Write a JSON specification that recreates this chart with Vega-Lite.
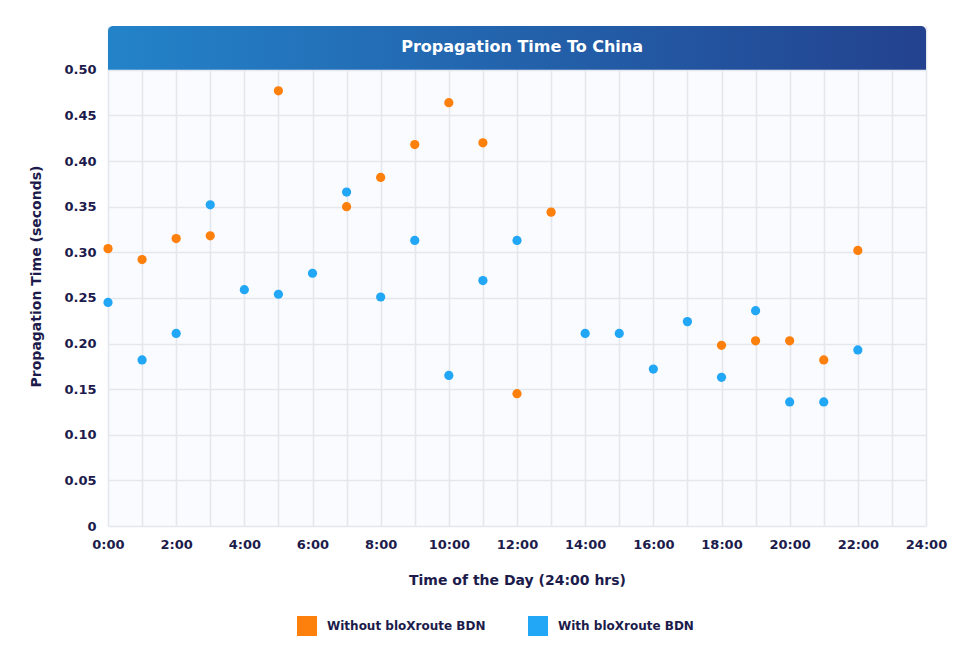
{
  "$schema": "https://vega.github.io/schema/vega-lite/v6.json",
  "autosize": {"type": "none"},
  "width": 818,
  "height": 500,
  "padding": {"left": 108, "top": 26, "right": 34, "bottom": 125},
  "background": "#ffffff",
  "config": {
    "font": "DejaVu Sans",
    "view": {"fill": "#fafbfe", "stroke": null},
    "axis": {
      "labelFont": "DejaVu Sans", "labelFontWeight": "bold", "labelColor": "#1c1b4b", "labelFontSize": 13,
      "titleFont": "DejaVu Sans", "titleFontWeight": "bold", "titleColor": "#1c1b4b", "titleFontSize": 14,
      "gridColor": "#e5e7ee", "gridWidth": 1.6, "gridOpacity": 1, "ticks": false, "domain": false
    },
    "legend": {
      "labelFont": "DejaVu Sans", "labelFontWeight": "bold", "labelColor": "#1c1b4b", "labelFontSize": 12
    }
  },
  "datasets": {
    "points": [
      {"hour": 0, "time": 0.304, "series": "Without bloXroute BDN"},
      {"hour": 1, "time": 0.292, "series": "Without bloXroute BDN"},
      {"hour": 2, "time": 0.315, "series": "Without bloXroute BDN"},
      {"hour": 3, "time": 0.318, "series": "Without bloXroute BDN"},
      {"hour": 5, "time": 0.477, "series": "Without bloXroute BDN"},
      {"hour": 7, "time": 0.350, "series": "Without bloXroute BDN"},
      {"hour": 8, "time": 0.382, "series": "Without bloXroute BDN"},
      {"hour": 9, "time": 0.418, "series": "Without bloXroute BDN"},
      {"hour": 10, "time": 0.464, "series": "Without bloXroute BDN"},
      {"hour": 11, "time": 0.420, "series": "Without bloXroute BDN"},
      {"hour": 12, "time": 0.145, "series": "Without bloXroute BDN"},
      {"hour": 13, "time": 0.344, "series": "Without bloXroute BDN"},
      {"hour": 18, "time": 0.198, "series": "Without bloXroute BDN"},
      {"hour": 19, "time": 0.203, "series": "Without bloXroute BDN"},
      {"hour": 20, "time": 0.203, "series": "Without bloXroute BDN"},
      {"hour": 21, "time": 0.182, "series": "Without bloXroute BDN"},
      {"hour": 22, "time": 0.302, "series": "Without bloXroute BDN"},
      {"hour": 0, "time": 0.245, "series": "With bloXroute BDN"},
      {"hour": 1, "time": 0.182, "series": "With bloXroute BDN"},
      {"hour": 2, "time": 0.211, "series": "With bloXroute BDN"},
      {"hour": 3, "time": 0.352, "series": "With bloXroute BDN"},
      {"hour": 4, "time": 0.259, "series": "With bloXroute BDN"},
      {"hour": 5, "time": 0.254, "series": "With bloXroute BDN"},
      {"hour": 6, "time": 0.277, "series": "With bloXroute BDN"},
      {"hour": 7, "time": 0.366, "series": "With bloXroute BDN"},
      {"hour": 8, "time": 0.251, "series": "With bloXroute BDN"},
      {"hour": 9, "time": 0.313, "series": "With bloXroute BDN"},
      {"hour": 10, "time": 0.165, "series": "With bloXroute BDN"},
      {"hour": 11, "time": 0.269, "series": "With bloXroute BDN"},
      {"hour": 12, "time": 0.313, "series": "With bloXroute BDN"},
      {"hour": 14, "time": 0.211, "series": "With bloXroute BDN"},
      {"hour": 15, "time": 0.211, "series": "With bloXroute BDN"},
      {"hour": 16, "time": 0.172, "series": "With bloXroute BDN"},
      {"hour": 17, "time": 0.224, "series": "With bloXroute BDN"},
      {"hour": 18, "time": 0.163, "series": "With bloXroute BDN"},
      {"hour": 19, "time": 0.236, "series": "With bloXroute BDN"},
      {"hour": 20, "time": 0.136, "series": "With bloXroute BDN"},
      {"hour": 21, "time": 0.136, "series": "With bloXroute BDN"},
      {"hour": 22, "time": 0.193, "series": "With bloXroute BDN"}
    ],
    "header": [{"title": "Propagation Time To China"}]
  },
  "layer": [
    {
      "data": {"name": "points"},
      "mark": {"type": "circle", "size": 85, "opacity": 1},
      "encoding": {
        "x": {
          "field": "hour", "type": "quantitative",
          "scale": {"domain": [0, 24], "nice": false},
          "axis": {
            "values": [0,1,2,3,4,5,6,7,8,9,10,11,12,13,14,15,16,17,18,19,20,21,22,23,24],
            "labelExpr": "datum.value % 2 == 0 ? datum.value + ':00' : ''",
            "labelPadding": 12, "titlePadding": 22, "labelFlush": false, "labelOverlap": false,
            "title": "Time of the Day (24:00 hrs)"
          }
        },
        "y": {
          "field": "time", "type": "quantitative",
          "scale": {"domain": [0, 0.548], "nice": false, "zero": true},
          "axis": {
            "values": [0, 0.05, 0.1, 0.15, 0.2, 0.25, 0.3, 0.35, 0.4, 0.45, 0.5],
            "labelExpr": "datum.value == 0 ? '0' : format(datum.value, '.2f')",
            "labelPadding": 12, "titlePadding": 20, "labelFlush": false, "labelOverlap": false,
            "title": "Propagation Time (seconds)"
          }
        },
        "color": {
          "field": "series", "type": "nominal",
          "scale": {"domain": ["Without bloXroute BDN", "With bloXroute BDN"], "range": ["#fd7f0c", "#22a6f6"]},
          "legend": {
            "title": null, "orient": "none", "direction": "horizontal",
            "legendX": 189, "legendY": 590, "padding": 0,
            "symbolType": "square", "symbolSize": 400, "symbolStrokeWidth": 0, "symbolOpacity": 1,
            "labelOffset": 10, "columnPadding": 42
          }
        }
      }
    },
    {
      "data": {"name": "header"},
      "mark": {
        "type": "rect", "cornerRadiusTopLeft": 5, "cornerRadiusTopRight": 5,
        "color": {"gradient": "linear", "x1": 0, "x2": 1, "y1": 0, "y2": 0,
          "stops": [{"offset": 0, "color": "#2383c9"}, {"offset": 1, "color": "#23428f"}]}
      },
      "encoding": {
        "x": {"datum": 0, "type": "quantitative",
          "axis": {
            "values": [0,1,2,3,4,5,6,7,8,9,10,11,12,13,14,15,16,17,18,19,20,21,22,23,24],
            "labelExpr": "datum.value % 2 == 0 ? datum.value + ':00' : ''",
            "labelPadding": 12, "titlePadding": 22, "labelFlush": false, "labelOverlap": false,
            "title": "Time of the Day (24:00 hrs)"
          }},
        "x2": {"datum": 24},
        "y": {"datum": 0.5, "type": "quantitative",
          "axis": {
            "values": [0, 0.05, 0.1, 0.15, 0.2, 0.25, 0.3, 0.35, 0.4, 0.45, 0.5],
            "labelExpr": "datum.value == 0 ? '0' : format(datum.value, '.2f')",
            "labelPadding": 12, "titlePadding": 20, "labelFlush": false, "labelOverlap": false,
            "title": "Propagation Time (seconds)"
          }},
        "y2": {"datum": 0.548}
      }
    },
    {
      "data": {"name": "header"},
      "mark": {"type": "text", "color": "#ffffff", "font": "DejaVu Sans", "fontWeight": "bold", "fontSize": 16, "align": "center", "baseline": "middle"},
      "encoding": {
        "x": {"datum": 12.15, "type": "quantitative",
          "axis": {
            "values": [0,1,2,3,4,5,6,7,8,9,10,11,12,13,14,15,16,17,18,19,20,21,22,23,24],
            "labelExpr": "datum.value % 2 == 0 ? datum.value + ':00' : ''",
            "labelPadding": 12, "titlePadding": 22, "labelFlush": false, "labelOverlap": false,
            "title": "Time of the Day (24:00 hrs)"
          }},
        "y": {"datum": 0.5245, "type": "quantitative",
          "axis": {
            "values": [0, 0.05, 0.1, 0.15, 0.2, 0.25, 0.3, 0.35, 0.4, 0.45, 0.5],
            "labelExpr": "datum.value == 0 ? '0' : format(datum.value, '.2f')",
            "labelPadding": 12, "titlePadding": 20, "labelFlush": false, "labelOverlap": false,
            "title": "Propagation Time (seconds)"
          }},
        "text": {"field": "title"}
      }
    }
  ]
}
